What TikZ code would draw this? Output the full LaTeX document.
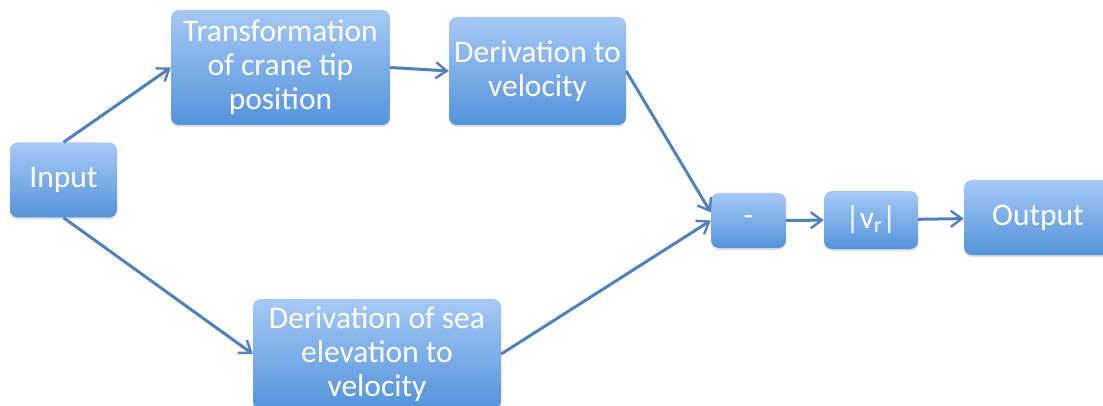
\documentclass[tikz,border=0pt]{standalone}
\usepackage{fontspec}
\setmainfont{Carlito}
\usetikzlibrary{arrows.meta,shadows}
\definecolor{boxtop}{RGB}{166,201,246}
\definecolor{boxbot}{RGB}{84,147,218}
\definecolor{linkblue}{RGB}{79,129,189}
\begin{document}
\begin{tikzpicture}[x=1pt,y=-1pt,>={Straight Barb[length=11pt,width=16pt,line width=2.4pt]},
  font=\fontsize{31.5}{34}\selectfont,
  blk/.style={rounded corners=8pt,top color=boxtop,bottom color=boxbot,
    draw=none,text=white,align=center,inner sep=0pt,
    drop shadow={shadow xshift=0pt,shadow yshift=-2pt,opacity=.25}},
  link/.style={->,draw=linkblue,line width=3pt}]
  \useasboundingbox (0,0) rectangle (1103,406);
  \node[blk,minimum width=107pt,minimum height=75pt] (in) at (63.5,180) {Input};
  \node[blk,minimum width=219pt,minimum height=115pt] (trans) at (280.5,67.5)
    {Transformation\\of crane tip\\position};
  \node[blk,minimum width=177pt,minimum height=108pt] (deriv) at (537.5,71)
    {Derivation to\\velocity};
  \node[blk,minimum width=248pt,minimum height=110pt] (sea) at (377,354)
    {Derivation of sea\\elevation to\\velocity};
  \node[blk,minimum width=75pt,minimum height=55pt] (minus) at (748.5,220.5) {-};
  \node[blk,minimum width=94pt,minimum height=58pt] (vr) at (871,220)
    {|v\textsubscript{r}|};
  \node[blk,minimum width=148pt,minimum height=75pt] (out) at (1038,217.5) {Output};
  % both velocity paths meet at the difference block
  \draw[link] (in.north) -- (trans.west);
  \draw[link] (in.south) -- (sea.west);
  \draw[link] (trans.east) -- (deriv.west);
  \draw[link] (deriv.east) -- ([yshift=8pt]minus.west);
  \draw[link] (sea.east) -- (minus.west);
  \draw[link] (minus) -- (vr);
  \draw[link] (vr) -- (out);
\end{tikzpicture}
\end{document}
